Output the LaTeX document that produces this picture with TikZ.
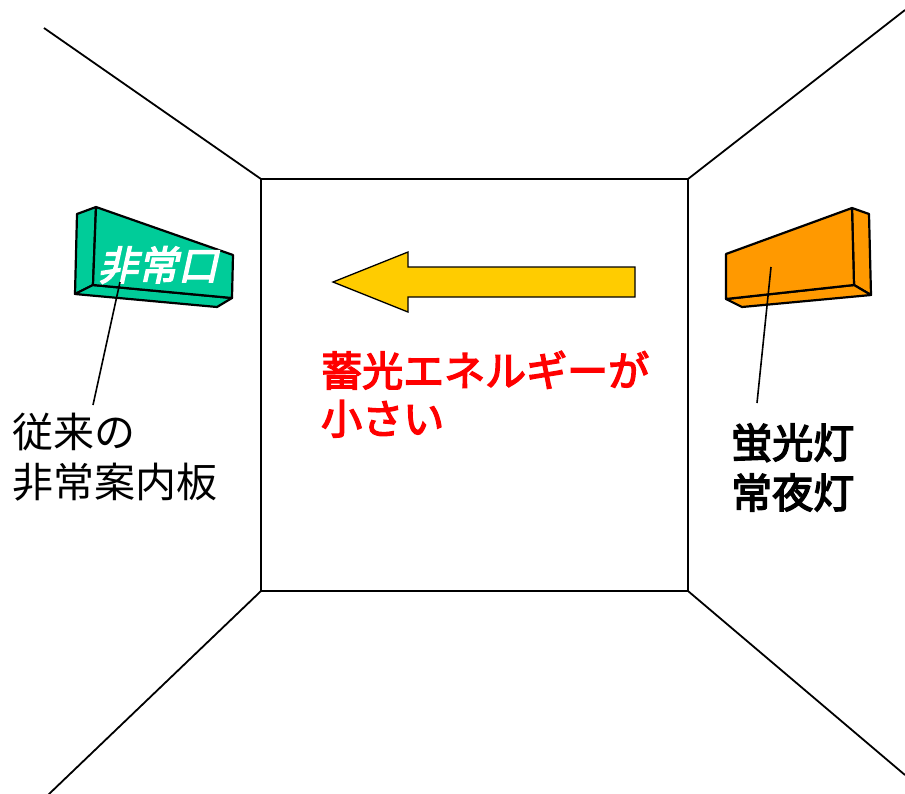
\documentclass[tikz,border=0pt]{standalone}
\usepackage{fontspec}
\newfontfamily\jp{Noto Sans CJK JP}
\newfontfamily\jpbold[FakeBold=3.5]{Noto Sans CJK JP}
\newfontfamily\jpsl[FakeSlant=0.22,FakeBold=3.5]{Noto Sans CJK JP}
\definecolor{signgreen}{HTML}{00CC99}
\definecolor{lamporange}{HTML}{FF9900}
\definecolor{arrowyellow}{HTML}{FFCC00}
\definecolor{labelred}{HTML}{FF0000}
\begin{document}
\begin{tikzpicture}[x=1pt,y=-1pt,
  wall/.style={line width=1.8pt},
  boxface/.style={draw=black,line width=2.2pt,line join=round},
  leader/.style={line width=1.6pt},
  label/.style={inner sep=0pt,anchor=base west,font=\jp\fontsize{41}{49}\selectfont},
  boldlabel/.style={label,font=\jpbold\fontsize{41}{49}\selectfont},
]
\useasboundingbox (0,0) rectangle (905,793);

% back wall corners and the room edges
\coordinate (tl) at (261,179);
\coordinate (tr) at (688,179);
\coordinate (br) at (688,591);
\coordinate (bl) at (261,591);
\draw[wall] (tl) -- (tr) -- (br) -- (bl) -- cycle;
\draw[wall] (44,28) -- (tl);
\draw[wall] (tr) -- (905,10);
\draw[wall] (bl) -- (48,795);
\draw[wall] (br) -- (905,775);

% green exit sign on the left wall
\filldraw[boxface,fill=signgreen] (77,214) -- (96,207) -- (93,285) -- (75,294) -- cycle;
\filldraw[boxface,fill=signgreen] (75,294) -- (93,285) -- (232,298) -- (217,307) -- cycle;
\filldraw[boxface,fill=signgreen] (96,207) -- (233,255) -- (232,298) -- (93,285) -- cycle;
\node[inner sep=0pt,anchor=base,text=white,font=\jpsl\fontsize{40}{40}\selectfont]
  (exit) at (158,280) {非常口};

% orange lamp on the right wall
\filldraw[boxface,fill=lamporange] (852,208) -- (869,214) -- (871,295) -- (854,285) -- cycle;
\filldraw[boxface,fill=lamporange] (726,299) -- (854,285) -- (871,295) -- (742,307) -- cycle;
\filldraw[boxface,fill=lamporange] (726,254) -- (852,208) -- (854,285) -- (726,299) -- cycle;

% yellow arrow pointing left
\filldraw[fill=arrowyellow,draw=black,line width=1.3pt,line join=miter]
  (333,282) -- (408,252) -- (408,267) -- (635,267) -- (635,297)
  -- (408,297) -- (408,312) -- cycle;

% labels
\node[boldlabel,text=labelred] (red1) at (321,386) {蓄光エネルギーが};
\node[boldlabel,text=labelred] (red2) at (321,434) {小さい};

\node[label] (old1) at (12,447) {従来の};
\node[label] (old2) at (12,497) {非常案内板};

\node[boldlabel] (lamp1) at (731,458) {蛍光灯};
\node[boldlabel] (lamp2) at (731,508) {常夜灯};

% leader lines
\coordinate (signpt) at (120,282);
\coordinate (signend) at (93,405);
\coordinate (lamppt) at (771,267);
\coordinate (lampend) at (757,403);
\draw[leader] (signpt) -- (signend);
\draw[leader] (lamppt) -- (lampend);
\end{tikzpicture}
\end{document}
